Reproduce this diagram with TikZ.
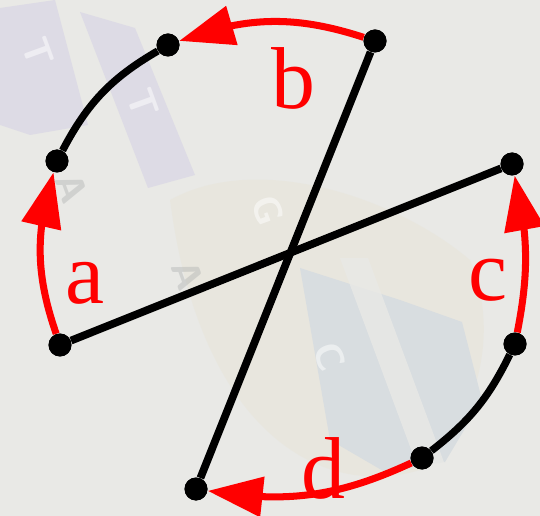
\documentclass[tikz,border=0pt]{standalone}
\usepackage{fontspec}
\setmainfont{Liberation Serif}
\usepackage{tikz}
\usetikzlibrary{arrows.meta, bending}

\definecolor{bgfill}{RGB}{233,233,230}
\definecolor{lavender}{RGB}{221,219,229}
\definecolor{beige}{RGB}{232,229,218}
\definecolor{bluegray}{RGB}{216,221,224}
\definecolor{arcred}{RGB}{255,0,0}

\begin{document}
\begin{tikzpicture}[
  x=0.02cm, y=-0.02cm,
  dot/.style={circle, fill=black, inner sep=0pt, minimum size=0.46cm},
  chord/.style={line width=4.4pt, color=black},
  blackarc/.style={line width=4.2pt, color=black},
  redarc/.style={-{Triangle[length=1.1cm,width=0.78cm,flex]}, line width=4pt, color=arcred},
  arclbl/.style={font=\fontsize{50}{60}\selectfont, text=arcred, inner sep=0pt},
  bgletter/.style={font=\sffamily\bfseries\fontsize{22}{24}\selectfont, text=white, opacity=0.5, rotate=-70}
]
\useasboundingbox (0,0) rectangle (540,516);

%% ── BACKGROUND ───────────────────────────────────────────
\fill[bgfill] (0,0) rectangle (540,516);
\fill[beige, opacity=0.6] (170,200) .. controls (260,150) and (400,200) .. (470,260)
      .. controls (500,330) and (480,420) .. (420,470)
      .. controls (320,500) and (200,430) .. (170,200);
\fill[lavender] (0,8) -- (55,0) -- (88,125) -- (30,135) -- (0,125) -- cycle;
\fill[lavender] (80,12) -- (135,28) -- (195,175) -- (148,188) -- cycle;
\fill[bluegray] (300,268) -- (400,300) -- (462,322) -- (482,400) -- (445,462)
      -- (385,472) -- (330,440) -- cycle;
\fill[bgfill, opacity=0.8] (340,258) -- (368,258) -- (445,465) -- (418,468) -- cycle;
\node[bgletter] (tA) at (38,52)  {T};
\node[bgletter] (tB) at (143,103) {T};
\node[bgletter, text=bluegray!70!black, opacity=0.3] (aA) at (72,188) {A};
\node[bgletter] (gG) at (268,210) {G};
\node[bgletter, text=bluegray!70!black, opacity=0.3] (aB) at (188,275) {A};
\node[bgletter] (cC) at (330,357) {C};

%% ── POINTS ON THE CIRCLE ─────────────────────────────────
\node[dot] (top)      at (375,41)  {};
\node[dot] (topleft)  at (168,45)  {};
\node[dot] (leftup)   at (57,161)  {};
\node[dot] (leftlow)  at (60,345)  {};
\node[dot] (bottom)   at (196,489) {};
\node[dot] (botright) at (422,458) {};
\node[dot] (rightlow) at (515,344) {};
\node[dot] (rightup)  at (512,164) {};

%% Chords through the middle
\draw[chord] (top) -- (bottom);
\draw[chord] (leftlow) -- (rightup);

%% Black arcs
\draw[blackarc] (topleft)  to[bend right=16] (leftup);
\draw[blackarc] (rightlow) to[bend left=13]  (botright);

%% Red arcs
\draw[redarc] (top)      to[bend right=19] (topleft);
\draw[redarc] (leftlow)  to[bend left=18]  (leftup);
\draw[redarc] (rightlow) to[bend right=12] (rightup);
\draw[redarc] (botright) to[bend left=17]  (bottom);

%% Dots on top again
\foreach \p in {top,topleft,leftup,leftlow,bottom,botright,rightlow,rightup}
  \fill (\p) circle (0.23cm);

%% Labels
\node[arclbl] (lblA) at (85,283)  {a};
\node[arclbl] (lblB) at (293,78)  {b};
\node[arclbl] (lblC) at (488,280) {c};
\node[arclbl] (lblD) at (323,468) {d};

\end{tikzpicture}
\end{document}
